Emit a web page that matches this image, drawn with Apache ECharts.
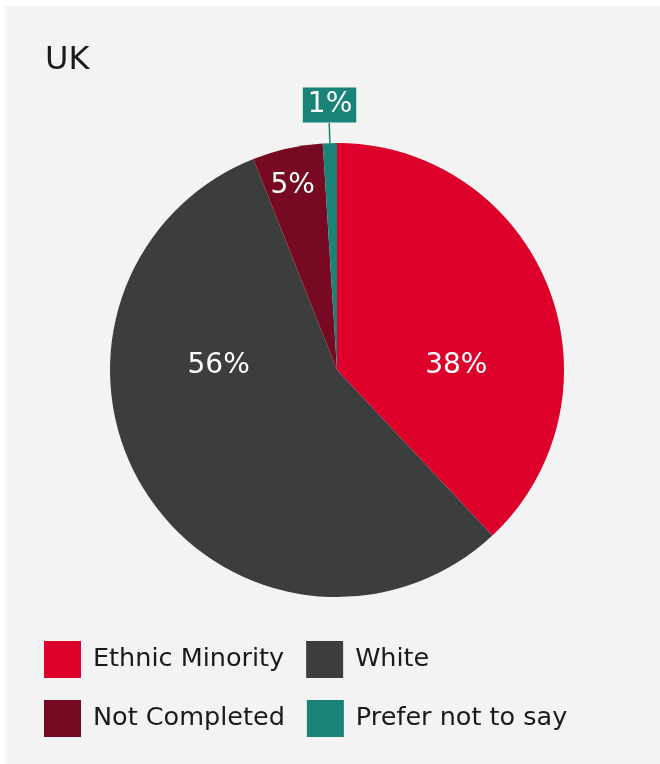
<!DOCTYPE html>
<html>
<head>
<meta charset="utf-8">
<script src="https://cdn.jsdelivr.net/npm/echarts@6/dist/echarts.min.js"></script>
<style>
  html, body { margin: 0; padding: 0; background: #ffffff; }
  #chart { width: 660px; height: 764px; }
</style>
</head>
<body>
<div id="chart"></div>
<script>
// Ethnicity breakdown, UK
const title = 'UK';
const categories = ['Ethnic Minority', 'White', 'Not Completed', 'Prefer not to say'];
const values = [38, 56, 5, 1];
const colors = ['#dc002b', '#3c3e3d', '#770a22', '#198378'];

const FONT = '"DejaVu Sans", "Liberation Sans", sans-serif';

// Nudge the in-slice labels so they sit where the design places them
const labelShift = [
  { dx: 11, dy: 39 },
  { dx: -20, dy: -67 },
  { dx: -19, dy: -71 },
  { dx: 32, dy: -18 }
];

const data = categories.map((name, i) => {
  const item = { name: name, value: values[i], itemStyle: { color: colors[i] } };
  if (i === 3) {
    item.label = {
      position: 'outside',
      color: '#ffffff',
      fontSize: 28,
      backgroundColor: colors[i],
      padding: [4, 4, 3, 5]
    };
    item.labelLine = { show: true, length: 20, length2: 0, lineStyle: { color: colors[i], width: 1.5 } };
  }
  return item;
});

const legendBase = {
  icon: 'rect', itemWidth: 37, itemHeight: 37, itemGap: 22,
  padding: 0,
  textStyle: { fontFamily: FONT, fontSize: 25.5, color: '#1a1a1a', padding: [9, 0, 0, 7] }
};

const chart = echarts.init(document.getElementById('chart'), null, { renderer: 'canvas' });
chart.setOption({
  backgroundColor: '#ffffff',
  animation: false,
  graphic: [{
    type: 'rect',
    shape: { x: 5, y: 6, width: 655, height: 758 },
    style: { fill: '#f2f3f2' },
    z: -10
  }],
  title: {
    text: title,
    left: 45,
    top: 45,
    padding: 0,
    textStyle: { fontFamily: FONT, fontSize: 32, fontWeight: 'normal', color: '#1a1a1a' }
  },
  legend: [
    Object.assign({}, legendBase, { data: categories.slice(0, 2), left: 44, top: 641 }),
    Object.assign({}, legendBase, { data: categories.slice(2, 4), left: 44, top: 700 })
  ],
  series: [{
    type: 'pie',
    center: [337, 370],
    radius: 227,
    startAngle: 90,
    clockwise: true,
    avoidLabelOverlap: false,
    data: data,
    itemStyle: { borderWidth: 0 },
    label: {
      show: true,
      position: 'inside',
      formatter: '{d}%',
      color: '#ffffff',
      fontFamily: FONT,
      fontSize: 28
    },
    labelLine: { show: false },
    labelLayout: function (params) {
      return labelShift[params.dataIndex];
    },
    emphasis: { disabled: true }
  }]
});
</script>
</body>
</html>
